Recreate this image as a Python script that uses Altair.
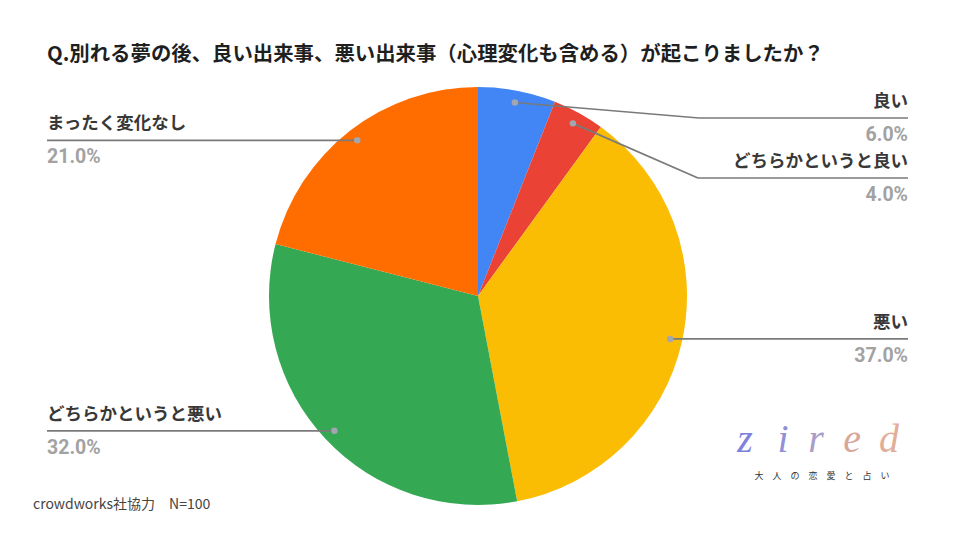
import math
import altair as alt
import pandas as pd

# ---- data ----
categories = ["良い", "どちらかというと良い", "悪い", "どちらかというと悪い", "まったく変化なし"]
values = [6.0, 4.0, 37.0, 32.0, 21.0]
colors = ["#4285F4", "#EA4335", "#FBBC04", "#34A853", "#FF6D01"]

title_text = "Q.別れる夢の後、良い出来事、悪い出来事（心理変化も含める）が起こりましたか？"
footnote_text = "crowdworks社協力　N=100"
logo_letters = ["z", "i", "r", "e", "d"]
logo_colors = ["#7f82dd", "#8f90d8", "#a99dca", "#d9a799", "#e2ae98"]
logo_sub = "大　人　の　恋　愛　と　占　い"

# ---- layout (page pixels) ----
OFF = 8
CX, CY, R = 478, 296, 209
DOT_R = 197
sides = ["right", "right", "right", "left", "left"]
line_ys = [118, 178, None, None, None]
elbow_xs = [699, 698, None, None, None]
RIGHT_X, LEFT_X = 908, 47
logo_x = [745, 783, 816, 852, 889]
CJK = "Noto Sans CJK JP"

total = sum(values)
dots, segs, names, pcts = [], [], [], []
start = 0.0
for cat, v, side, ly, ex in zip(categories, values, sides, line_ys, elbow_xs):
    mid = (start + v / 2) / total * 2 * math.pi
    start += v
    dx = CX + DOT_R * math.sin(mid)
    dy = CY - DOT_R * math.cos(mid)
    dots.append({"x": dx - OFF, "y": dy - OFF})
    end_x = RIGHT_X if side == "right" else LEFT_X
    if ly is None:
        ly = dy
        segs.append({"x": dx - OFF, "y": dy - OFF, "x2": end_x - OFF, "y2": ly - OFF})
    else:
        segs.append({"x": dx - OFF, "y": dy - OFF, "x2": ex - OFF, "y2": ly - OFF})
        segs.append({"x": ex - OFF, "y": ly - OFF, "x2": end_x - OFF, "y2": ly - OFF})
    names.append({"x": end_x - OFF, "y": ly - 16 - OFF, "t": cat, "side": side})
    pcts.append({"x": end_x - OFF, "y": ly + 17 - OFF, "t": f"{v:.1f}%", "side": side})

pie_df = pd.DataFrame({"cat": categories, "val": values, "ord": list(range(len(values)))})
pie = alt.Chart(pie_df).mark_arc(outerRadius=R).encode(
    theta=alt.Theta("val:Q", stack=True),
    color=alt.Color("cat:N", scale=alt.Scale(domain=categories, range=colors), legend=None),
    order=alt.Order("ord:Q"),
    x=alt.value(CX - OFF),
    y=alt.value(CY - OFF),
)

X = lambda f: alt.X(f"{f}:Q", scale=None, axis=None)
Y = lambda f: alt.Y(f"{f}:Q", scale=None, axis=None)

rules = alt.Chart(pd.DataFrame(segs)).mark_rule(color="#7a7a7a", strokeWidth=1.7).encode(
    x=X("x"), y=Y("y"), x2="x2:Q", y2="y2:Q"
)
dot_layer = alt.Chart(pd.DataFrame(dots)).mark_circle(size=42, color="#a3a6ae", opacity=1).encode(
    x=X("x"), y=Y("y")
)

names_df = pd.DataFrame(names)
pcts_df = pd.DataFrame(pcts)
text_layers = []
for side, align in [("right", "right"), ("left", "left")]:
    text_layers.append(
        alt.Chart(names_df[names_df.side == side]).mark_text(
            align=align, baseline="middle", font=CJK, fontSize=17.5, fontWeight="bold", color="#383838"
        ).encode(x=X("x"), y=Y("y"), text="t:N")
    )
    text_layers.append(
        alt.Chart(pcts_df[pcts_df.side == side]).mark_text(
            align=align, baseline="middle", font="Roboto", fontSize=19.5, fontWeight="bold", color="#a2a2a2"
        ).encode(x=X("x"), y=Y("y"), text="t:N")
    )

title = alt.Chart(pd.DataFrame({"t": [title_text]})).mark_text(
    align="left", baseline="middle", font=CJK, fontSize=20.4, fontWeight="bold", color="#1f1f1f"
).encode(x=alt.value(47 - OFF), y=alt.value(55 - OFF), text="t:N")

footnote = alt.Chart(pd.DataFrame({"t": [footnote_text]})).mark_text(
    align="left", baseline="middle", font=CJK, fontSize=14, color="#444444"
).encode(x=alt.value(33 - OFF), y=alt.value(505 - OFF), text="t:N")

logo_df = pd.DataFrame({"t": logo_letters, "x": [v - OFF for v in logo_x], "c": logo_colors})
logo = alt.Chart(logo_df).mark_text(
    align="center", baseline="alphabetic", font="Liberation Serif", fontSize=40,
    fontStyle="italic", fontWeight="normal"
).encode(
    x=X("x"), y=alt.value(452 - OFF), text="t:N",
    color=alt.Color("c:N", scale=None),
)
logo_sub_layer = alt.Chart(pd.DataFrame({"t": [logo_sub]})).mark_text(
    align="center", baseline="middle", font=CJK, fontSize=9, color="#333333"
).encode(x=alt.value(822 - OFF), y=alt.value(476 - OFF), text="t:N")

chart = alt.layer(
    pie, rules, dot_layer, *text_layers, title, footnote, logo, logo_sub_layer
).properties(width=944, height=524, padding=0, autosize=alt.AutoSizeParams(type="none")).configure_view(
    stroke=None
).resolve_scale(color="independent")

chart.save("out.html", embed_options={"renderer": "svg", "actions": False})
